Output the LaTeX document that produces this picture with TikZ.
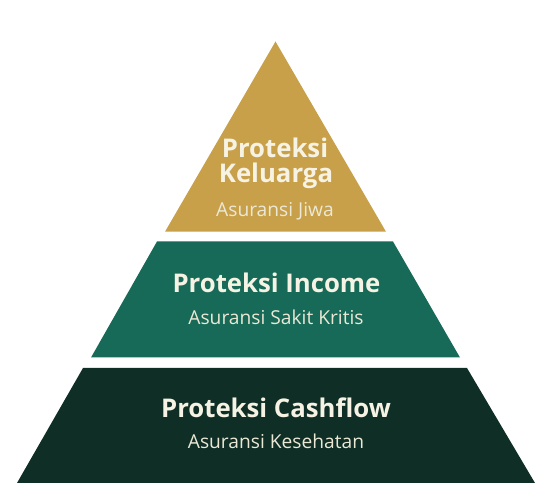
\documentclass[tikz,border=0pt]{standalone}
\usepackage{fontspec}
\setmainfont{Open Sans}
\usetikzlibrary{calc}
\definecolor{tiergold}{RGB}{200,160,74}
\definecolor{tiergreen}{RGB}{22,106,87}
\definecolor{tierdark}{RGB}{14,46,38}
\definecolor{titlecream}{RGB}{246,243,228}
\definecolor{subcream}{RGB}{236,232,214}
\tikzset{
  tiertitle/.style={text=titlecream,font=\fontsize{19.3}{22}\selectfont\bfseries,inner sep=0pt,anchor=base},
  tiersub/.style={text=subcream,font=\fontsize{14.4}{17}\selectfont,inner sep=0pt,anchor=base}
}
\begin{document}
\begin{tikzpicture}[x=0.75pt,y=-0.75pt]
\useasboundingbox (0,0) rectangle (544,502);
\coordinate (A) at (275.5,41.5);
\coordinate (G1) at (165,231.7);
\coordinate (G2) at (386,231.7);
\coordinate (M1) at (157,241.5);
\coordinate (M2) at (393,241.5);
\coordinate (M3) at (460,357.5);
\coordinate (M4) at (91,357.5);
\coordinate (B1) at (83,368);
\coordinate (B2) at (467,368);
\coordinate (B3) at (535,483);
\coordinate (B4) at (17,483);
\fill[tiergold] (A)--(G2)--(G1)--cycle;
\fill[tiergreen] (M1)--(M2)--(M3)--(M4)--cycle;
\fill[tierdark] (B1)--(B2)--(B3)--(B4)--cycle;
% top tier
\node[tiertitle] (top1) at (275,158) {Proteksi};
\node[tiertitle] (top2) at (276,183) {Keluarga};
\node[tiersub] (topsub) at (275,217) {Asuransi Jiwa};
% middle tier
\node[tiertitle] (mid1) at (276.5,293) {Proteksi Income};
\node[tiersub] (midsub) at (276,325) {Asuransi Sakit Kritis};
% bottom tier
\node[tiertitle] (bot1) at (276,418) {Proteksi Cashflow};
\node[tiersub] (botsub) at (276,449) {Asuransi Kesehatan};
\end{tikzpicture}
\end{document}
